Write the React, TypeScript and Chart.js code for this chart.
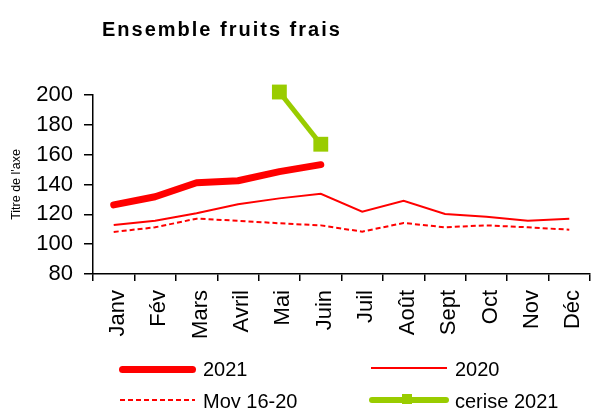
import React, { useEffect, useRef } from 'react';
import { Chart, registerables } from 'chart.js';

Chart.register(...registerables);

const FONT = '"Liberation Sans", Arial, Helvetica, sans-serif';

const chartTitle = 'Ensemble fruits frais';
const yAxisTitle = "Titre de l'axe";
const months = ['Janv', 'Fév', 'Mars', 'Avril', 'Mai', 'Juin', 'Juil', 'Août', 'Sept', 'Oct', 'Nov', 'Déc'];
const yMin = 80;
const yMax = 200;
const yStep = 20;

const seriesNames = ['2021', '2020', 'Moy 16-20', 'cerise 2021'];
const values2021 = [126.3, 131.8, 141.2, 142.5, 148.6, 153.3, null, null, null, null, null, null];
const values2020 = [112.9, 115.7, 120.7, 126.7, 130.7, 133.8, 121.8, 129.1, 120.2, 118.4, 115.7, 117.0];
const valuesMoy = [108.2, 111.3, 117.1, 115.7, 114.0, 112.6, 108.4, 114.2, 111.3, 112.6, 111.3, 109.7];
const valuesCerise = [null, null, null, null, 202, 167, null, null, null, null, null, null];

const RED = '#FF0000';
const GREEN = '#99CC00';

export default function App() {
  const ref = useRef<HTMLCanvasElement>(null);

  useEffect(() => {
    if (!ref.current) return;
    const chart = new Chart(ref.current, {
      type: 'line',
      data: {
        labels: months,
        datasets: [
          {
            label: seriesNames[3],
            data: valuesCerise,
            borderColor: GREEN,
            backgroundColor: GREEN,
            borderWidth: 5,
            pointStyle: 'rect',
            pointRadius: 10.5,
            pointBorderWidth: 0,
            pointBackgroundColor: GREEN,
            clip: false,
            order: 0,
          },
          {
            label: seriesNames[0],
            data: values2021,
            borderColor: RED,
            backgroundColor: RED,
            borderWidth: 7,
            borderCapStyle: 'round',
            borderJoinStyle: 'round',
            pointRadius: 0,
            clip: false,
            order: 1,
          },
          {
            label: seriesNames[1],
            data: values2020,
            borderColor: RED,
            backgroundColor: RED,
            borderWidth: 2,
            pointRadius: 0,
            order: 2,
          },
          {
            label: seriesNames[2],
            data: valuesMoy,
            borderColor: RED,
            backgroundColor: RED,
            borderWidth: 2,
            borderDash: [5, 3],
            pointRadius: 0,
            order: 3,
          },
        ],
      },
      options: {
        responsive: false,
        animation: false,
        devicePixelRatio: 1,
        layout: { autoPadding: false, padding: { top: 95, left: 0, right: 1, bottom: 0 } },
        plugins: {
          legend: { display: false },
          title: { display: false },
          tooltip: { enabled: false },
        },
        scales: {
          x: {
            type: 'category',
            offset: true,
            grid: {
              offset: true,
              drawOnChartArea: false,
              drawTicks: true,
              tickLength: 7,
              color: '#000',
              lineWidth: 1.5,
            },
            border: { display: true, color: '#000', width: 1.5 },
            ticks: {
              autoSkip: false,
              minRotation: 90,
              maxRotation: 90,
              padding: 9,
              labelOffset: 4,
              color: '#000',
              font: { size: 22, family: FONT },
            },
            afterFit: (s: any) => {
              s.height = 134;
              s.paddingLeft = 0;
              s.paddingRight = 0;
            },
          },
          y: {
            min: yMin,
            max: yMax,
            ticks: {
              stepSize: yStep,
              padding: 11,
              color: '#000',
              font: { size: 22, family: FONT },
            },
            grid: {
              drawOnChartArea: false,
              drawTicks: true,
              tickLength: 9,
              color: '#000',
              lineWidth: 1.5,
            },
            border: { display: true, color: '#000', width: 1.5 },
            title: {
              display: true,
              text: yAxisTitle,
              color: '#000',
              font: { size: 12.5, family: FONT },
              padding: { top: 9, bottom: 0 },
            },
            afterFit: (s: any) => {
              s.width = 93;
              s.paddingTop = 0;
              s.paddingBottom = 0;
            },
          },
        },
      },
    });
    return () => chart.destroy();
  }, []);

  const textStyle: React.CSSProperties = {
    position: 'absolute',
    fontFamily: FONT,
    fontSize: 20,
    lineHeight: '24px',
    height: 24,
    color: '#000',
    whiteSpace: 'nowrap',
  };

  return (
    <div
      style={{
        position: 'absolute',
        left: 0,
        top: 0,
        width: 591,
        height: 408,
        overflow: 'hidden',
        background: '#fff',
      }}
    >
      <canvas ref={ref} width={591} height={408} style={{ position: 'absolute', left: 0, top: 0, width: 591, height: 408 }} />
      <div
        style={{
          position: 'absolute',
          left: 102,
          top: 19,
          fontFamily: FONT,
          fontWeight: 'bold',
          fontSize: 20,
          lineHeight: '20px',
          letterSpacing: 2,
          color: '#000',
          whiteSpace: 'nowrap',
        }}
      >
        {chartTitle}
      </div>
      {/* legend row 1 */}
      <div style={{ position: 'absolute', left: 119, top: 365.5, width: 77, height: 7, background: RED, borderRadius: 3.5 }} />
      <div style={{ ...textStyle, left: 203, top: 357 }}>{seriesNames[0]}</div>
      <div style={{ position: 'absolute', left: 371, top: 367, width: 76, height: 2, background: RED }} />
      <div style={{ ...textStyle, left: 455, top: 357 }}>{seriesNames[1]}</div>
      {/* legend row 2 */}
      <div
        style={{
          position: 'absolute',
          left: 120,
          top: 399,
          width: 75,
          height: 2,
          background: `repeating-linear-gradient(to right, ${RED} 0px, ${RED} 5px, transparent 5px, transparent 8px)`,
        }}
      />
      <div style={{ ...textStyle, left: 203, top: 388.5 }}>{seriesNames[2]}</div>
      <div style={{ position: 'absolute', left: 369, top: 397, width: 80, height: 6, background: GREEN, borderRadius: 3 }} />
      <div style={{ position: 'absolute', left: 402, top: 394, width: 10, height: 10, background: GREEN }} />
      <div style={{ ...textStyle, left: 455, top: 388.5 }}>{seriesNames[3]}</div>
    </div>
  );
}
